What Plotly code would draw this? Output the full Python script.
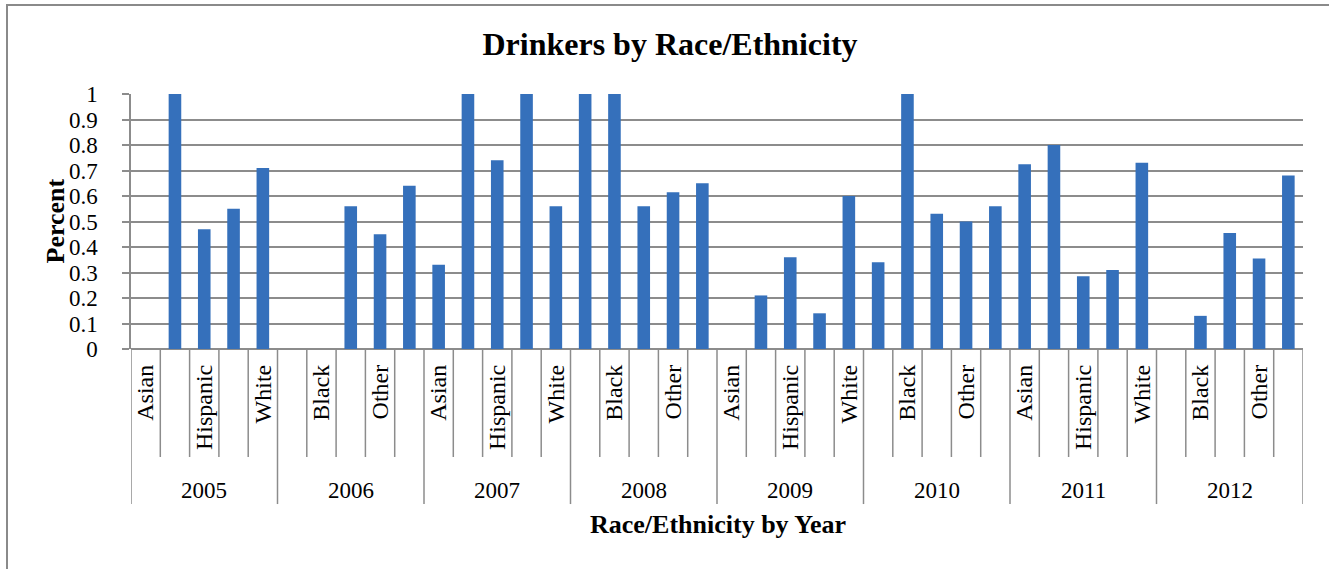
import plotly.graph_objects as go

# ---- data ----
years = ["2005", "2006", "2007", "2008", "2009", "2010", "2011", "2012"]
races = ["Asian", "Black", "Hispanic", "Other", "White"]
v2005 = [None, 1.0, 0.47, 0.55, 0.71]
v2006 = [None, None, 0.56, 0.45, 0.64]
v2007 = [0.33, 1.0, 0.74, 1.0, 0.56]
v2008 = [1.0, 1.0, 0.56, 0.615, 0.65]
v2009 = [None, 0.21, 0.36, 0.14, 0.60]
v2010 = [0.34, 1.0, 0.53, 0.50, 0.56]
v2011 = [0.725, 0.80, 0.285, 0.31, 0.73]
v2012 = [None, 0.13, 0.455, 0.355, 0.68]
y_ticks = [0, 0.1, 0.2, 0.3, 0.4, 0.5, 0.6, 0.7, 0.8, 0.9, 1]

values = v2005 + v2006 + v2007 + v2008 + v2009 + v2010 + v2011 + v2012
n_r = len(races)
n = len(values)
xs = list(range(n))
cat_labels = [races[i % n_r] for i in xs]

W, H = 1329, 569
L, R, T, B = 131, 26, 94, 220
pw, ph = W - L - R, H - T - B

def px_x(p):
    return (p - L) / pw

def px_y(p):
    return (H - B - p) / ph

FONT = "Liberation Serif"
GRID = "#8c8c8c"

fig = go.Figure()
fig.add_trace(go.Bar(
    x=xs, y=values, width=0.43,
    marker=dict(color="#3570bb", line=dict(width=0)),
    hoverinfo="y",
))

shapes = []
for i in range(n + 1):
    bottom = -0.608 if i % n_r == 0 else -0.4235
    shapes.append(dict(type="line", xref="x", yref="paper",
                       x0=i - 0.5, x1=i - 0.5, y0=0, y1=bottom,
                       line=dict(color=GRID, width=1.5)))
# outer frame (left and top edges visible)
shapes.append(dict(type="rect", xref="paper", yref="paper",
                   x0=px_x(7), x1=px_x(W + 20), y0=px_y(H + 20), y1=px_y(5),
                   line=dict(color="#8a8a8a", width=2), layer="below"))

annotations = []
for k, yr in enumerate(years):
    annotations.append(dict(x=k * n_r + (n_r - 1) / 2, y=px_y(490), xref="x", yref="paper",
                            text=yr, showarrow=False, font=dict(family=FONT, size=23, color="black"),
                            xanchor="center", yanchor="middle"))
annotations.append(dict(x=px_x(718), y=px_y(524), xref="paper", yref="paper",
                        text="<b>Race/Ethnicity by Year</b>", showarrow=False,
                        font=dict(family=FONT, size=26, color="black"),
                        xanchor="center", yanchor="middle"))
annotations.append(dict(x=px_x(55), y=0.5, xref="paper", yref="paper",
                        text="<b>Percent</b>", showarrow=False, textangle=-90,
                        font=dict(family=FONT, size=26, color="black"),
                        xanchor="center", yanchor="middle"))

fig.update_layout(
    width=W, height=H,
    margin=dict(l=L, r=R, t=T, b=B, pad=0),
    paper_bgcolor="white", plot_bgcolor="white",
    showlegend=False,
    title=dict(text="<b>Drinkers by Race/Ethnicity</b>", x=670 / W, xref="container",
               y=1 - 44 / H, yref="container", xanchor="center", yanchor="middle",
               font=dict(family=FONT, size=32, color="black")),
    shapes=shapes,
    annotations=annotations,
    xaxis=dict(range=[-0.5, n - 0.5], tickmode="array",
               tickvals=xs[::2], ticktext=cat_labels[::2],
               tickangle=-90, ticks="", showgrid=False, zeroline=False,
               showline=False, ticklabelstandoff=10,
               tickfont=dict(family=FONT, size=24, color="black")),
    yaxis=dict(range=[0, 1], tickmode="array", tickvals=y_ticks,
               ticktext=[f"{v:g}" for v in y_ticks],
               showgrid=True, gridcolor=GRID, gridwidth=2,
               zeroline=True, zerolinecolor=GRID, zerolinewidth=2,
               showline=True, linecolor=GRID, linewidth=1.5,
               ticks="outside", ticklen=7, tickcolor=GRID, tickwidth=2,
               ticklabelstandoff=20,
               tickfont=dict(family=FONT, size=23, color="black")),
)

fig.write_html("out.html")
